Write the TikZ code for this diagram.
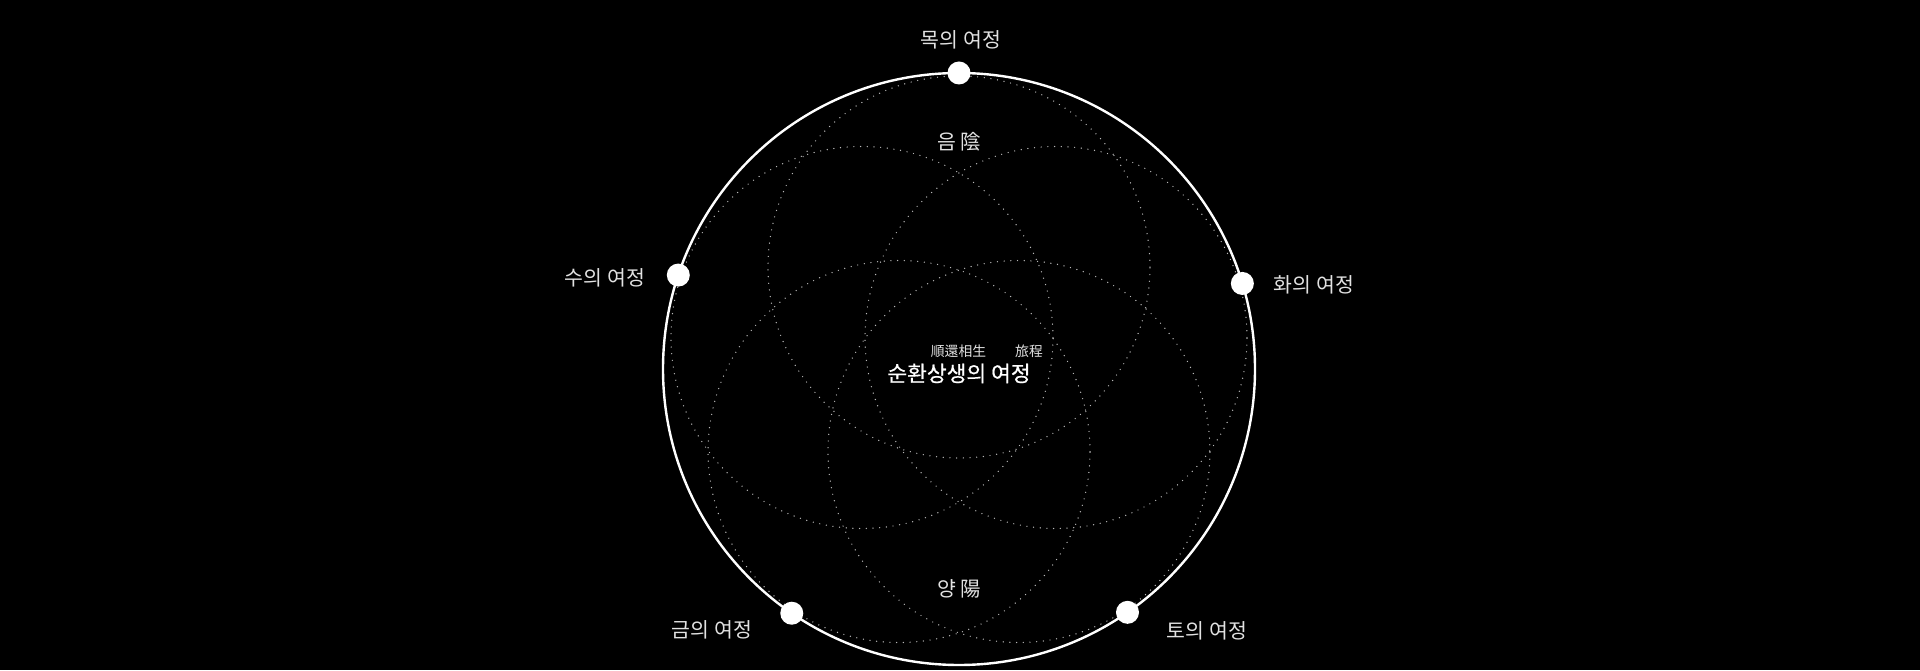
\documentclass[tikz,border=0pt]{standalone}
\usepackage{fontspec}
\usetikzlibrary{calc}
\setmainfont{Noto Sans CJK KR}
\newfontfamily\titlefont[FakeBold=0.6]{Noto Sans CJK KR}
\begin{document}
\begin{tikzpicture}[x=1pt,y=1pt,
  orbit/.style={draw=white,line width=2.4pt},
  petal/.style={draw=dotgray,line width=1.4pt,line cap=round,dash pattern=on 0pt off 6.7pt},
  station/.style={circle,fill=white,inner sep=0pt,minimum size=23pt},
  lbl/.style={text=lblgray,font=\fontsize{20.5}{24}\selectfont,inner sep=0pt,anchor=base},
  ruby/.style={text=lblgray,font=\fontsize{13.8}{16}\selectfont,inner sep=0pt,anchor=base},
  title/.style={text=white,font=\fontsize{21.5}{25}\titlefont,inner sep=0pt,anchor=base}]
\definecolor{dotgray}{HTML}{B8B8B8}
\definecolor{lblgray}{HTML}{E2E2E2}
\fill[black] (0,0) rectangle (1920,670);
\useasboundingbox (0,0) rectangle (1920,670);
\coordinate (C) at (959,301);
% dotted petals
\foreach \a in {90,162,18,234,306}
  \draw[petal] ($(C)+(\a:102)$) circle[radius=191];
% main orbit
\draw[orbit] (C) circle[radius=296];
% stations
\node[station] (wood)  at ($(C)+(90:296)$) {};
\node[station] (water) at ($(C)+(161.5:296)$) {};
\node[station] (fire)  at ($(C)+(16.8:296)$) {};
\node[station] (metal) at ($(C)+(235.6:296)$) {};
\node[station] (earth) at ($(C)+(304.7:296)$) {};
% labels
\node[lbl] (lwood)  at (961,622.5) {목의 여정};
\node[lbl] (lwater) at (605,384.5) {수의 여정};
\node[lbl] (lfire)  at (1314,377.5) {화의 여정};
\node[lbl] (lmetal) at (712,32.5) {금의 여정};
\node[lbl] (learth) at (1207,31.5) {토의 여정};
\node[lbl] (yin)    at (959,520) {음 陰};
\node[lbl] (yang)   at (959,74) {양 陽};
\node[ruby] (r1) at (958.5,313.5) {順還相生};
\node[ruby] (r2) at (1029,313.5) {旅程};
\node[title] (t) at (959,288.5) {순환상생의 여정};
\end{tikzpicture}
\end{document}
